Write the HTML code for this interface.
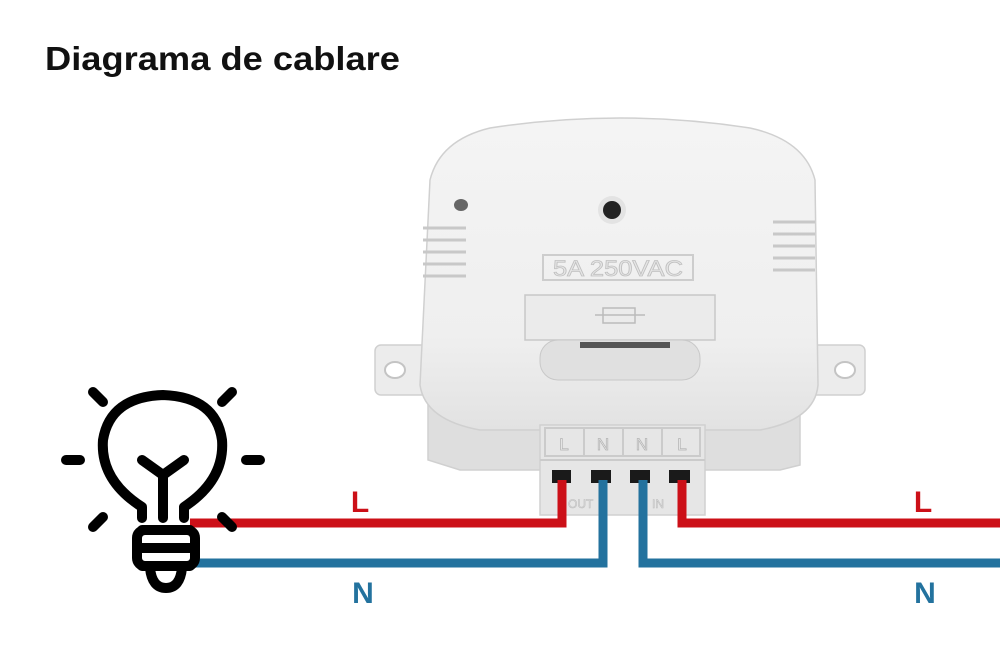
<!DOCTYPE html>
<html><head><meta charset="utf-8"><style>html,body{margin:0;padding:0;background:#fff}svg{display:block}</style></head>
<body>
<svg width="1000" height="658" viewBox="0 0 1000 658" xmlns="http://www.w3.org/2000/svg" font-family="Liberation Sans, sans-serif">
<defs>
<linearGradient id="bg" x1="0" y1="0" x2="0" y2="1">
<stop offset="0" stop-color="#f4f4f4"/><stop offset="0.7" stop-color="#efefef"/><stop offset="1" stop-color="#e2e2e2"/>
</linearGradient>
</defs>
<rect width="1000" height="658" fill="#fff"/>
<text x="45" y="70" font-size="33" font-weight="bold" fill="#111" textLength="355" lengthAdjust="spacingAndGlyphs">Diagrama de cablare</text>

<!-- device -->
<g stroke="#d0d0d0" stroke-width="1.5">
  <rect x="375" y="345" width="55" height="50" rx="6" fill="#ececec"/>
  <rect x="810" y="345" width="55" height="50" rx="6" fill="#ececec"/>
  <path d="M428 380 L800 380 L800 465 L780 470 L460 470 L428 460 Z" fill="#dedede"/>
  <path d="M430 180 Q440 140 490 128 Q620 108 750 128 Q805 140 815 180 L818 385 Q815 420 760 430 L480 430 Q425 420 420 385 Z" fill="url(#bg)"/>
  <rect x="540" y="425" width="165" height="90" fill="#e6e6e6"/>
</g>
<ellipse cx="395" cy="370" rx="10" ry="8" fill="#fff" stroke="#c4c4c4" stroke-width="2"/>
<ellipse cx="845" cy="370" rx="10" ry="8" fill="#fff" stroke="#c4c4c4" stroke-width="2"/>
<circle cx="612" cy="210" r="14" fill="#e3e3e3"/>
<circle cx="612" cy="210" r="9" fill="#222"/>
<ellipse cx="461" cy="205" rx="7" ry="6" fill="#666"/>
<g stroke="#c8c8c8" stroke-width="3">
  <line x1="423" y1="228" x2="466" y2="228"/><line x1="423" y1="240" x2="466" y2="240"/><line x1="423" y1="252" x2="466" y2="252"/><line x1="423" y1="264" x2="466" y2="264"/><line x1="423" y1="276" x2="466" y2="276"/>
  <line x1="773" y1="222" x2="815" y2="222"/><line x1="773" y1="234" x2="815" y2="234"/><line x1="773" y1="246" x2="815" y2="246"/><line x1="773" y1="258" x2="815" y2="258"/><line x1="773" y1="270" x2="815" y2="270"/>
</g>
<rect x="543" y="255" width="150" height="25" fill="none" stroke="#cdcdcd" stroke-width="2"/>
<text x="618" y="276" font-size="22" fill="#e6e6e6" stroke="#c0c0c0" stroke-width="0.8" text-anchor="middle" textLength="130" lengthAdjust="spacingAndGlyphs">5A 250VAC</text>
<rect x="525" y="295" width="190" height="45" fill="#ebebeb" stroke="#c8c8c8" stroke-width="1.5"/>
<g stroke="#bbb" stroke-width="1.5" fill="none"><rect x="603" y="308" width="32" height="15"/><line x1="595" y1="315" x2="645" y2="315"/></g>
<rect x="540" y="340" width="160" height="40" rx="18" fill="#e0e0e0" stroke="#c8c8c8"/>
<rect x="580" y="342" width="90" height="6" fill="#555"/>
<g stroke="#cbcbcb" stroke-width="2" fill="none">
  <line x1="540" y1="460" x2="705" y2="460"/>
  <rect x="545" y="428" width="155" height="28"/>
  <line x1="584" y1="428" x2="584" y2="456"/><line x1="623" y1="428" x2="623" y2="456"/><line x1="662" y1="428" x2="662" y2="456"/>
</g>
<g font-size="17" fill="#f4f4f4" stroke="#b4b4b4" stroke-width="0.8" text-anchor="middle">
  <text x="564" y="450">L</text><text x="603" y="450">N</text><text x="642" y="450">N</text><text x="682" y="450">L</text>
</g>
<g fill="#1a1a1a">
  <rect x="552" y="470" width="19" height="13"/><rect x="591" y="470" width="20" height="13"/><rect x="630" y="470" width="20" height="13"/><rect x="669" y="470" width="21" height="13"/>
</g>
<g font-size="12" fill="#ddd" stroke="#bbb" stroke-width="0.5"><text x="568" y="508">OUT</text><text x="652" y="508">IN</text></g>

<!-- wires -->
<g fill="none" stroke-width="9" stroke-linejoin="miter">
  <path d="M190 523 L562 523 L562 480" stroke="#cc1018"/>
  <path d="M682 480 L682 523 L1000 523" stroke="#cc1018"/>
  <path d="M190 563 L603 563 L603 480" stroke="#23729e"/>
  <path d="M643 480 L643 563 L1000 563" stroke="#23729e"/>
</g>
<g font-size="30" font-weight="bold" text-anchor="middle">
  <text x="360" y="512" fill="#cc1018">L</text><text x="923" y="512" fill="#cc1018">L</text>
  <text x="363" y="603" fill="#23729e">N</text><text x="925" y="603" fill="#23729e">N</text>
</g>

<!-- bulb -->
<g fill="none" stroke="#000" stroke-width="10" stroke-linecap="round" stroke-linejoin="round">
  <path d="M142 518 L142 507 Q100 480 103 440 Q110 397 163 395 Q216 397 222 440 Q225 480 184 507 L184 518"/>
  <path d="M142 530 L190 530 M142 548 L190 548 M142 566 L190 566"/>
  <rect x="137" y="530" width="58" height="36" rx="8"/>
  <path d="M150 568 Q152 588 166 588 Q180 588 182 568"/>
  <path d="M142 460 L163 475 L184 460 M163 475 L163 518"/>
  <path d="M93 392 L103 402 M232 392 L222 402 M66 460 L80 460 M246 460 L260 460 M93 527 L103 517 M232 527 L222 517"/>
</g>
</svg>
</body></html>
